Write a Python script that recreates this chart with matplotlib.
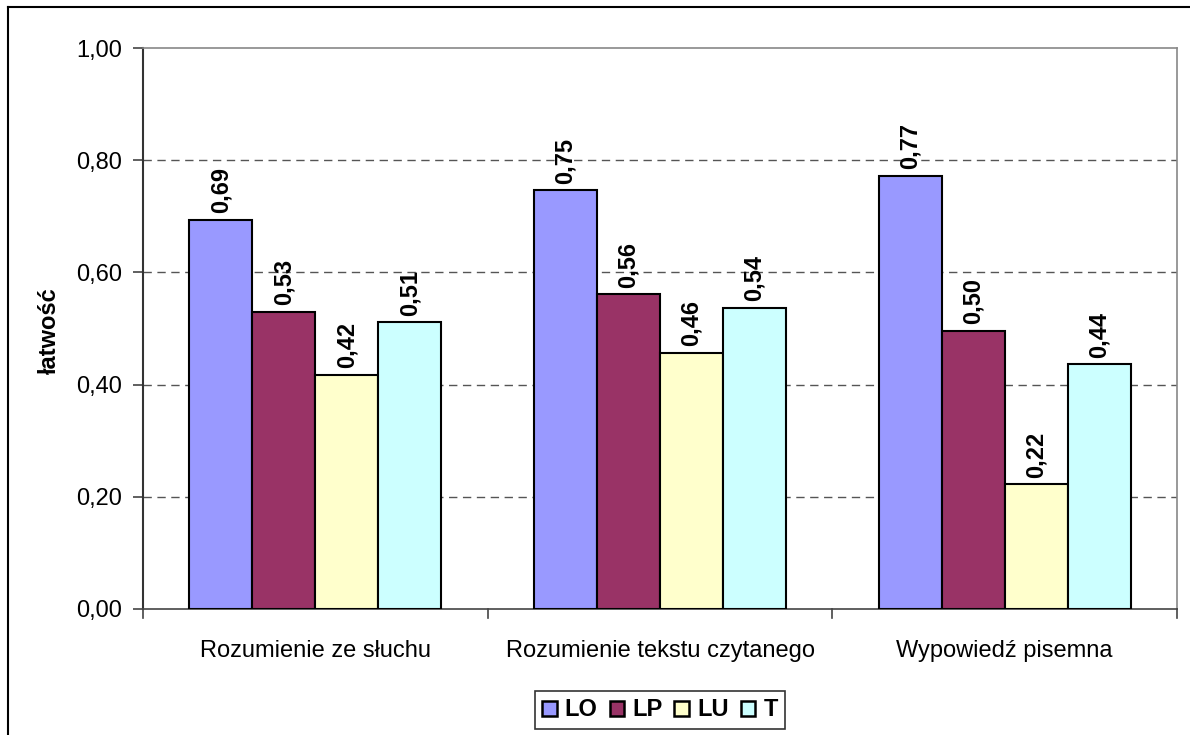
import matplotlib
matplotlib.use("Agg")
import matplotlib.pyplot as plt
import numpy as np
from matplotlib.patches import Rectangle
from matplotlib.lines import Line2D

plt.rcParams['font.family'] = ['Liberation Sans', 'DejaVu Sans']

categories = ["Rozumienie ze słuchu", "Rozumienie tekstu czytanego", "Wypowiedź pisemna"]
series_names = ["LO", "LP", "LU", "T"]
LO = [0.693, 0.746, 0.772]
LP = [0.529, 0.561, 0.496]
LU = [0.418, 0.456, 0.222]
T = [0.511, 0.537, 0.436]
colors = ["#9999FF", "#993366", "#FFFFCC", "#CCFFFF"]
yticks = [0.0, 0.2, 0.4, 0.6, 0.8, 1.0]

series = [LO, LP, LU, T]

fig = plt.figure(figsize=(11.9, 7.35), dpi=100)
ax = fig.add_axes([143/1190, 1-609/735, (1177-143)/1190, (609-48)/735])

x = np.arange(len(categories))
bw = 0.183
n = len(series)
for i, (vals, c) in enumerate(zip(series, colors)):
    pos = x + (i - (n-1)/2) * bw
    ax.bar(pos, vals, width=bw, color=c, edgecolor='black', linewidth=1.5, zorder=3)
    for p, v in zip(pos, vals):
        ax.text(p, v + 0.012, f"{v:.2f}".replace('.', ','), rotation=90,
                ha='center', va='bottom', fontsize=17, fontweight='bold', zorder=4)

ax.set_xlim(-0.5, len(categories) - 0.5)
ax.set_ylim(0, 1.0)
ax.set_yticks(yticks)
ax.set_yticklabels([f"{t:.2f}".replace('.', ',') for t in yticks], fontsize=17)
ax.set_xticks(x)
ax.set_xticklabels(categories, fontsize=17)
ax.tick_params(axis='x', length=0, pad=22)
ax.tick_params(axis='y', length=7, width=1.2, color='#444444', pad=8)
# category separator ticks
for b in np.arange(-0.5, len(categories), 1.0):
    ax.plot([b, b], [0, -0.016], color='#444444', lw=1.2, clip_on=False, zorder=5)

for t in yticks[1:-1]:
    ax.axhline(t, color='#555555', lw=1.0, ls=(0, (6, 4)), zorder=1)

ax.spines['left'].set_color('#333333')
ax.spines['left'].set_linewidth(1.5)
ax.spines['bottom'].set_color('#444444')
ax.spines['bottom'].set_linewidth(1.2)
ax.spines['top'].set_color('#888888')
ax.spines['right'].set_color('#888888')
ax.spines['top'].set_linewidth(1.2)
ax.spines['right'].set_linewidth(1.2)

fig.text(49/1190, 1-331/735, "łatwość", rotation=90, ha='center', va='center',
         fontsize=17, fontweight='bold')

handles = [Rectangle((0, 0), 1, 1, facecolor=c, edgecolor='black', linewidth=1.8) for c in colors]
leg = fig.legend(handles, series_names, loc='center', bbox_to_anchor=(660/1190, 1-710/735),
                 ncol=4, frameon=True, fancybox=False, edgecolor='black',
                 prop={'weight': 'bold', 'size': 17}, handlelength=0.62, handleheight=0.62,
                 handletextpad=0.35, columnspacing=0.5, borderpad=0.3, borderaxespad=0)
leg.get_frame().set_linewidth(1.2)

# outer border
fig.add_artist(Line2D([8/1190, 8/1190], [0, 1-7/735], transform=fig.transFigure, color='black', lw=1.5))
fig.add_artist(Line2D([8/1190, 1], [1-7/735, 1-7/735], transform=fig.transFigure, color='black', lw=1.5))

fig.savefig("out.png", dpi=100)
